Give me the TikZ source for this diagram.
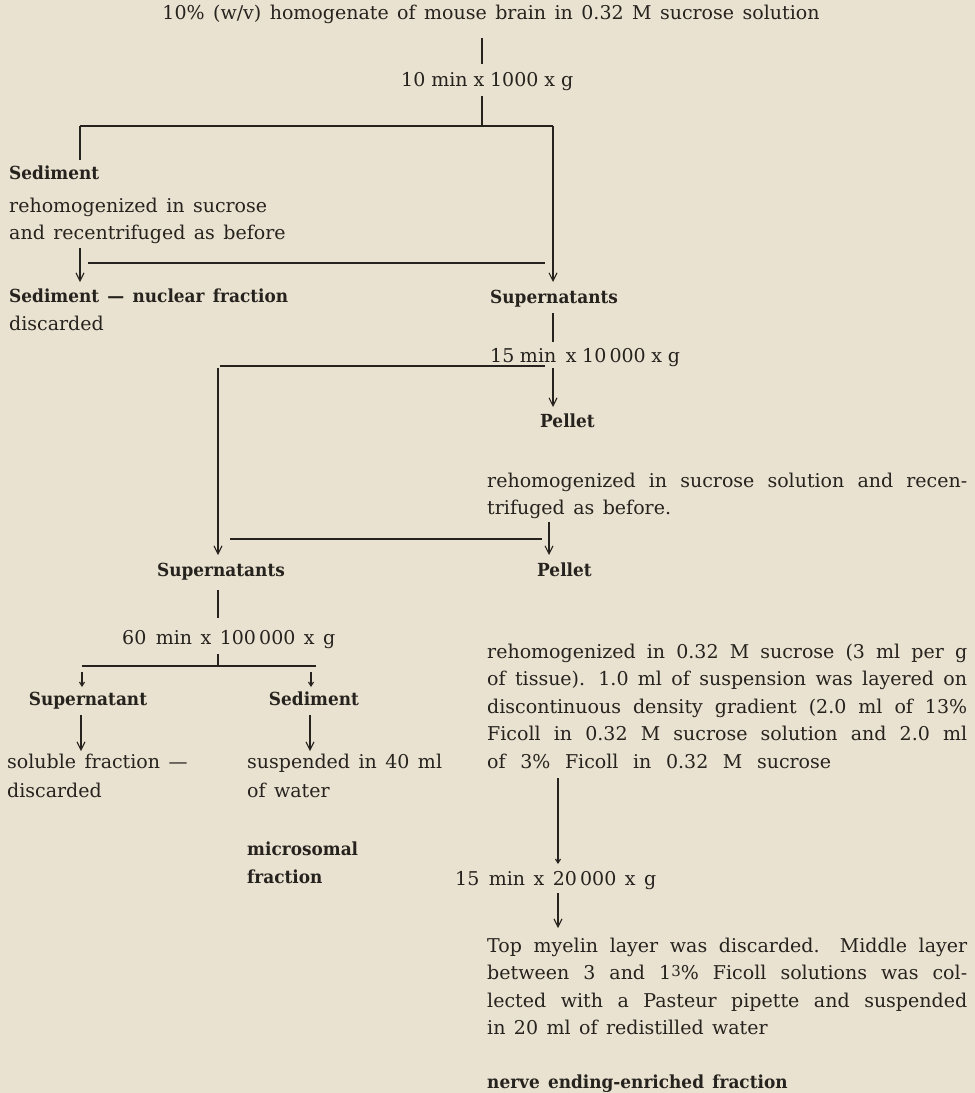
\documentclass[tikz,border=0pt]{standalone}
\usepackage{fontspec}
\setmainfont{DejaVu Serif}[WordSpace=1.4, BoldFeatures={FakeStretch=0.94}]
\usetikzlibrary{arrows.meta}
\definecolor{paper}{RGB}{233,226,208}
\definecolor{ink}{RGB}{38,34,30}
\newcommand\mainsz{\fontsize{19}{27}\selectfont}
\newcommand\boldsz{\fontsize{18}{27}\selectfont\bfseries}
\newcommand\jl[1]{\makebox[480pt][s]{#1}}
\newcommand\fitw[2]{\makebox[#1][s]{#2}}
\newcommand\supthree{\raisebox{3pt}{\fontsize{15}{15}\selectfont 3}}
\begin{document}
\begin{tikzpicture}[x=1pt,y=-1pt,
  every node/.style={inner sep=0pt, text=ink, font=\mainsz},
  txt/.style={anchor=base west},
  ctxt/.style={anchor=base},
  bt/.style={anchor=base west, font=\boldsz},
  cbt/.style={anchor=base, font=\boldsz},
  conn/.style={draw=ink, line width=1.1pt},
  arr/.style={conn, -{Straight Barb[length=8pt,width=8pt]}},
  sarr/.style={conn, -{Straight Barb[length=4pt,width=5pt]}}]
\fill[paper] (0,0) rectangle (975,1093);
\useasboundingbox (0,0) rectangle (975,1093);

% first spin
\node[ctxt] (title) at (491,19) {10\% (w/v) homogenate of mouse brain in 0.32 M sucrose solution};
\node[txt] (c1) at (401,86) {\fitw{172pt}{10 min x 1000 x g}};
\coordinate (a1) at (482,38); \coordinate (a2) at (482,64);
\draw[conn] (a1) -- (a2);
\coordinate (b1) at (482,96); \coordinate (j1) at (482,126);
\draw[conn] (b1) -- (j1);
\coordinate (hl1) at (80,126); \coordinate (hr1) at (553,126);
\draw[conn] (hl1) -- (hr1);
\coordinate (sl1) at (80,160);
\draw[conn] (hl1) -- (sl1);
\node[bt] (sed1) at (9,179) {Sediment};
\node[txt] (rh1) at (9,212) {rehomogenized in sucrose};
\node[txt] (rh2) at (9,239) {and recentrifuged as before};
\coordinate (s2a) at (80,248); \coordinate (s2b) at (80,282);
\draw[arr] (s2a) -- (s2b);
\coordinate (h2l) at (88,263); \coordinate (h2r) at (545,263);
\draw[conn] (h2l) -- (h2r);
\coordinate (sup1t) at (553,282);
\draw[arr] (hr1) -- (sup1t);
\node[bt] (sed2) at (9,302) {Sediment — nuclear fraction};
\node[txt] (disc1) at (9,330) {discarded};
\node[bt] (sup1) at (490,303) {Supernatants};

% second spin
\coordinate (v2a) at (553,313); \coordinate (v2b) at (553,342);
\draw[conn] (v2a) -- (v2b);
\node[txt] (c2) at (490,362) {\fitw{185pt}{15 min\enspace x 10\,000 x g}};
\coordinate (h3l) at (220,366); \coordinate (h3r) at (545,366);
\draw[conn] (h3l) -- (h3r);
\coordinate (p1a) at (553,368); \coordinate (p1b) at (553,407);
\draw[arr] (p1a) -- (p1b);
\node[bt] (pel1) at (540,427) {Pellet};
\coordinate (lva) at (218,368); \coordinate (lvb) at (218,555);
\draw[arr] (lva) -- (lvb);
\node[txt] (rh3) at (487,487) {\jl{rehomogenized in sucrose solution and recen-}};
\node[txt] (rh4) at (487,514) {trifuged as before.};
\coordinate (p2a) at (549,522); \coordinate (p2b) at (549,555);
\draw[arr] (p2a) -- (p2b);
\coordinate (h4l) at (230,539); \coordinate (h4r) at (542,539);
\draw[conn] (h4l) -- (h4r);
\node[cbt] (sup2) at (221,576) {Supernatants};
\node[bt] (pel2) at (537,576) {Pellet};

% third spin
\coordinate (v3a) at (218,590); \coordinate (v3b) at (218,618);
\draw[conn] (v3a) -- (v3b);
\node[txt] (c3) at (122,644) {60\enspace min x 100\,000 x g};
\coordinate (v4a) at (218,654); \coordinate (j4) at (218,666);
\draw[conn] (v4a) -- (j4);
\coordinate (h5l) at (82,666); \coordinate (h5r) at (316,666);
\draw[conn] (h5l) -- (h5r);
\coordinate (sa1) at (82,672); \coordinate (sa1b) at (82,687);
\coordinate (sa2) at (311,672); \coordinate (sa2b) at (311,687);
\draw[sarr] (sa1) -- (sa1b);
\draw[sarr] (sa2) -- (sa2b);
\node[cbt] (sup3) at (88,705) {Supernatant};
\node[cbt] (sed3) at (314,705) {Sediment};
\coordinate (ba1) at (81,715); \coordinate (ba1b) at (81,751);
\coordinate (ba2) at (310,715); \coordinate (ba2b) at (310,751);
\draw[arr] (ba1) -- (ba1b);
\draw[arr] (ba2) -- (ba2b);
\node[txt] (sol1) at (7,768) {soluble fraction —};
\node[txt] (sol2) at (7,797) {discarded};
\node[txt] (sus1) at (247,768) {suspended in 40 ml};
\node[txt] (sus2) at (247,797) {of water};
\node[bt] (mic1) at (247,855) {microsomal};
\node[bt] (mic2) at (247,883) {fraction};

% gradient
\node[txt] (g1) at (487,658) {\jl{rehomogenized in 0.32 M sucrose (3 ml per g}};
\node[txt] (g2) at (487,685.5) {\jl{of tissue). 1.0 ml of suspension was layered on}};
\node[txt] (g3) at (487,713) {\jl{discontinuous density gradient (2.0 ml of 13\%}};
\node[txt] (g4) at (487,740.5) {\jl{Ficoll in 0.32 M sucrose solution and 2.0 ml}};
\node[txt] (g5) at (487,768) {\fitw{344pt}{of 3\% Ficoll in 0.32 M sucrose}};
\coordinate (v5a) at (558,778); \coordinate (v5b) at (558,864);
\draw[sarr] (v5a) -- (v5b);
\node[txt] (c4) at (455,885) {15\enspace min x 20\,000 x g};
\coordinate (v6a) at (558,893); \coordinate (v6b) at (558,928);
\draw[arr] (v6a) -- (v6b);
\node[txt] (f1) at (487,952) {\jl{Top myelin layer was discarded. Middle layer}};
\node[txt] (f2) at (487,979.5) {\jl{between 3 and 1\supthree\% Ficoll solutions was col-}};
\node[txt] (f3) at (487,1007) {\jl{lected with a Pasteur pipette and suspended}};
\node[txt] (f4) at (487,1034.5) {in 20 ml of redistilled water};
\node[bt] (ner) at (487,1088) {nerve ending-enriched fraction};
\end{tikzpicture}
\end{document}
